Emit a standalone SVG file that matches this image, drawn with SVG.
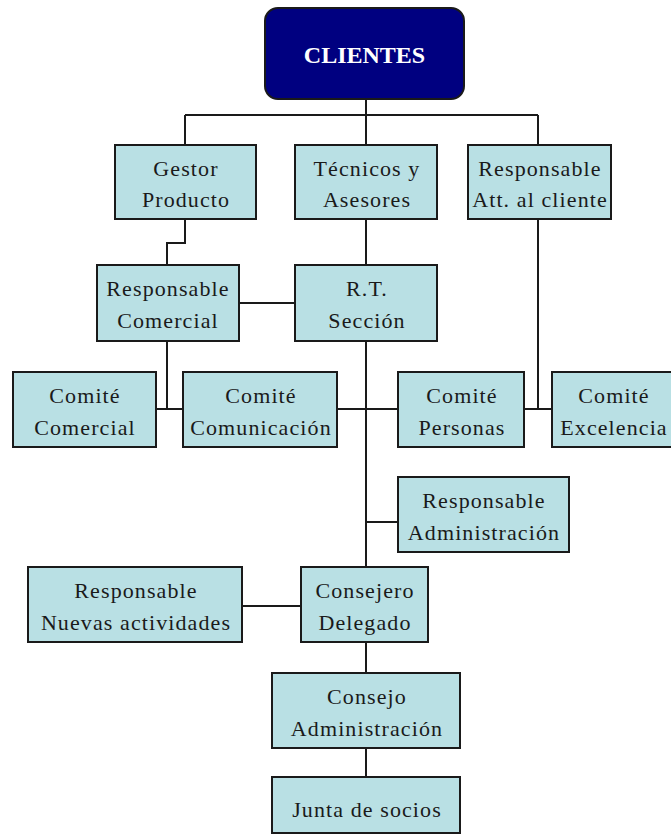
<svg xmlns="http://www.w3.org/2000/svg" width="671" height="837" viewBox="0 0 671 837">
<style>
.box{fill:#B9E0E4;stroke:#1a1a1a;stroke-width:2}
.t{font-family:"Liberation Serif","Times New Roman",serif;font-size:22px;fill:#1a1a1a;text-anchor:middle;letter-spacing:1.1px}
.c{fill:none;stroke:#1a1a1a;stroke-width:2}
</style>
<rect width="671" height="837" fill="#ffffff"/>
<g id="connectors" class="c">
<path d="M366,99V115M185,115H538M185,115V145M366,115V145M538,115V145"/>
<path d="M185,219V243H167V265"/>
<path d="M366,219V265"/>
<path d="M239,303H295"/>
<path d="M167,341V409M156,409H183"/>
<path d="M366,341V567"/>
<path d="M337,409H398"/>
<path d="M538,219V409M524,409H552"/>
<path d="M366,522H398"/>
<path d="M242,606H301"/>
<path d="M366,642V673M366,748V777"/>
</g>
<g id="clientes">
<rect x="265" y="8" width="199" height="91" rx="13" fill="#000080" stroke="#1a1a1a" stroke-width="2"/>
<text x="364.5" y="63" font-family="Liberation Serif,'Times New Roman',serif" font-size="24" font-weight="bold" fill="#ffffff" text-anchor="middle">CLIENTES</text>
</g>
<g id="gestor"><rect class="box" x="115" y="145" width="141" height="74"/><text class="t" x="186" y="176">Gestor</text><text class="t" x="186" y="207">Producto</text></g>
<g id="tecnicos"><rect class="box" x="295" y="145" width="142" height="74"/><text class="t" x="367" y="176">Técnicos y</text><text class="t" x="367" y="207">Asesores</text></g>
<g id="resp-att"><rect class="box" x="468" y="145" width="143" height="74"/><text class="t" x="540" y="176">Responsable</text><text class="t" x="540" y="207">Att. al cliente</text></g>
<g id="resp-comercial"><rect class="box" x="97" y="265" width="142" height="76"/><text class="t" x="168" y="296">Responsable</text><text class="t" x="168" y="328">Comercial</text></g>
<g id="rt-seccion"><rect class="box" x="295" y="265" width="142" height="76"/><text class="t" x="367" y="296">R.T.</text><text class="t" x="367" y="328">Sección</text></g>
<g id="comite-comercial"><rect class="box" x="13" y="372" width="143" height="75"/><text class="t" x="85" y="403">Comité</text><text class="t" x="85" y="435">Comercial</text></g>
<g id="comite-comunicacion"><rect class="box" x="183" y="372" width="154" height="75"/><text class="t" x="261" y="403">Comité</text><text class="t" x="261" y="435">Comunicación</text></g>
<g id="comite-personas"><rect class="box" x="398" y="372" width="126" height="75"/><text class="t" x="462" y="403">Comité</text><text class="t" x="462" y="435">Personas</text></g>
<g id="comite-excelencia"><rect class="box" x="552" y="372" width="123" height="75"/><text class="t" x="614" y="403">Comité</text><text class="t" x="614" y="435">Excelencia</text></g>
<g id="resp-admin"><rect class="box" x="398" y="477" width="171" height="75"/><text class="t" x="484" y="508">Responsable</text><text class="t" x="484" y="540">Administración</text></g>
<g id="resp-nuevas"><rect class="box" x="28" y="567" width="214" height="75"/><text class="t" x="136" y="598">Responsable</text><text class="t" x="136" y="630">Nuevas actividades</text></g>
<g id="consejero"><rect class="box" x="301" y="567" width="127" height="75"/><text class="t" x="365" y="598">Consejero</text><text class="t" x="365" y="630">Delegado</text></g>
<g id="consejo-admin"><rect class="box" x="272" y="673" width="188" height="75"/><text class="t" x="367" y="704">Consejo</text><text class="t" x="367" y="736">Administración</text></g>
<g id="junta"><rect class="box" x="272" y="777" width="188" height="56"/><text class="t" x="367" y="817">Junta de socios</text></g>
</svg>
